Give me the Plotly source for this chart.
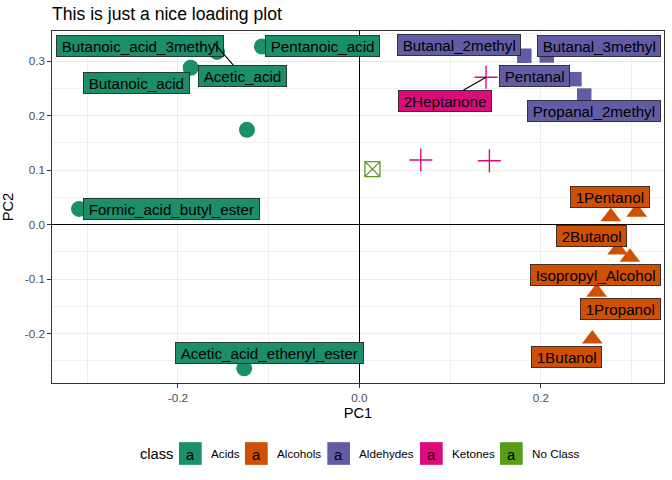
import plotly.graph_objects as go

# ---------------- data ----------------
classes = ["Acids", "Alcohols", "Aldehydes", "Ketones", "No Class"]
class_colors = ["#1B8E6A", "#CF5005", "#625CA5", "#DD0A7C", "#589C1A"]

acids_label = ["Butanoic_acid_3methyl", "Acetic_acid", "Pentanoic_acid", "Butanoic_acid",
               "Formic_acid_butyl_ester", "Acetic_acid_ethenyl_ester", ""]
acids_pc1 = [-0.157, -0.160, -0.1075, -0.186, -0.309, -0.127, -0.124]
acids_pc2 = [0.317, 0.333, 0.327, 0.288, 0.029, -0.2635, 0.174]

alcohols_label = ["1Pentanol", "", "2Butanol", "Isopropyl_Alcohol", "1Propanol", "1Butanol"]
alcohols_pc1 = [0.277, 0.3055, 0.2845, 0.298, 0.2614, 0.2566]
alcohols_pc2 = [0.0147, 0.023, -0.0464, -0.0599, -0.124, -0.2097]

aldehydes_label = ["Butanal_2methyl", "Butanal_3methyl", "Pentanal", "Propanal_2methyl"]
aldehydes_pc1 = [0.1817, 0.2064, 0.2369, 0.2477]
aldehydes_pc2 = [0.310, 0.3105, 0.267, 0.2369]

ketones_label = ["2Heptanone", "", ""]
ketones_pc1 = [0.1395, 0.0676, 0.1432]
ketones_pc2 = [0.2705, 0.1187, 0.1174]

noclass_label = [""]
noclass_pc1 = [0.0143]
noclass_pc2 = [0.102]

x_tickvals = [-0.2, 0.0, 0.2]
x_ticktext = ["-0.2", "0.0", "0.2"]
y_tickvals = [-0.2, -0.1, 0.0, 0.1, 0.2, 0.3]
y_ticktext = ["-0.2", "-0.1", "0.0", "0.1", "0.2", "0.3"]

# ---------------- styles / layout ----------------
W, H = 672, 480
ML, MR, MT, MB = 52, 8, 31, 97
PW, PH = W - ML - MR, H - MT - MB
FONT = "Liberation Sans, Arial, sans-serif"
PAD = "\u2009"

series = [
    (acids_label, acids_pc1, acids_pc2),
    (alcohols_label, alcohols_pc1, alcohols_pc2),
    (aldehydes_label, aldehydes_pc1, aldehydes_pc2),
    (ketones_label, ketones_pc1, ketones_pc2),
    (noclass_label, noclass_pc1, noclass_pc2),
]
marker_styles = [
    dict(symbol="circle", size=16),
    dict(symbol="triangle-up", size=18),
    dict(symbol="square", size=14.5),
    dict(symbol="cross-thin-open", size=16.5, lw=1.4),
    dict(symbol="square-x-open", size=15, lw=1.3),
]

# label offsets from point in pixels (dx right, dy down)
label_offsets = {
    "Butanoic_acid_3methyl": (-77.2, -6),
    "Acetic_acid": (28.2, 32.5),
    "Pentanoic_acid": (60.8, -0.2),
    "Butanoic_acid": (-54.2, 15.5),
    "Formic_acid_butyl_ester": (92.7, 0),
    "Acetic_acid_ethenyl_ester": (25.7, -15),
    "Butanal_2methyl": (-65.6, -10.3),
    "Butanal_3methyl": (52, -9.8),
    "Pentanal": (-39.5, -3.6),
    "Propanal_2methyl": (9.6, 15.4),
    "2Heptanone": (-41.5, 23.5),
    "1Pentanol": (-0.5, -19.4),
    "2Butanol": (-25.7, -14.3),
    "Isopropyl_Alcohol": (-34.7, 17.7),
    "1Propanol": (23.6, 16.7),
    "1Butanol": (-26, 17.7),
}
with_segment = {"Acetic_acid", "2Heptanone"}

fig = go.Figure()
annotations = []
for (labels, xs, ys), col, ms in zip(series, class_colors, marker_styles):
    mk = dict(symbol=ms["symbol"], size=ms["size"], color=col)
    if "lw" in ms:
        mk["line"] = dict(width=ms["lw"], color=col)
    else:
        mk["line"] = dict(width=0)
    fig.add_trace(go.Scatter(x=xs, y=ys, mode="markers", marker=mk,
                             showlegend=False, hoverinfo="skip"))
    for lab, x, y in zip(labels, xs, ys):
        if not lab:
            continue
        dx, dy = label_offsets[lab]
        a = dict(x=x, y=y, xref="x", yref="y", text=PAD + lab + PAD,
                 font=dict(family=FONT, size=15.2, color="black"),
                 bgcolor=col, bordercolor="#1a1a1a", borderwidth=0.8, borderpad=1.8)
        if lab in with_segment:
            a.update(showarrow=True, ax=dx, ay=dy, arrowhead=0, arrowwidth=1.1,
                     arrowcolor="black", standoff=0)
        else:
            a.update(showarrow=False, xshift=dx, yshift=-dy)
        annotations.append(a)

# ----- custom legend (ggplot style) -----
def xp(px):
    return (px - ML) / PW

def yp(py):
    return (H - MB - py) / PH

legend_key_px = [179, 245, 327.3, 420, 500]
KEY = 22.7
LEG_Y = 453.5
shapes = []
annotations.append(dict(x=xp(138), y=yp(LEG_Y), xref="paper", yref="paper", text="class",
                        showarrow=False, xanchor="left", yanchor="middle",
                        font=dict(family=FONT, size=14.7, color="black")))
for name, col, kx in zip(classes, class_colors, legend_key_px):
    shapes.append(dict(type="rect", xref="paper", yref="paper",
                       x0=xp(kx), x1=xp(kx + KEY), y0=yp(LEG_Y + KEY / 2), y1=yp(LEG_Y - KEY / 2),
                       fillcolor=col, line=dict(width=0)))
    annotations.append(dict(x=xp(kx + KEY / 2), y=yp(LEG_Y + 1), xref="paper", yref="paper",
                            text="a", showarrow=False, xanchor="center", yanchor="middle",
                            font=dict(family=FONT, size=14.7, color="black")))
    annotations.append(dict(x=xp(kx + 29.5), y=yp(LEG_Y), xref="paper", yref="paper",
                            text=name, showarrow=False, xanchor="left", yanchor="middle",
                            font=dict(family=FONT, size=11.7, color="black")))

axis_common = dict(
    showgrid=True, gridcolor="#EBEBEB", gridwidth=1,
    zeroline=True, zerolinecolor="black", zerolinewidth=1.1,
    showline=True, linecolor="#333333", linewidth=1, mirror=True,
    ticks="outside", ticklen=3.7, tickwidth=1, tickcolor="#333333",
    tickfont=dict(family=FONT, size=11.7, color="#4D4D4D"),
    tickmode="array",
)

fig.update_layout(
    width=W, height=H,
    margin=dict(l=ML, r=MR, t=MT, b=MB, autoexpand=False),
    paper_bgcolor="white", plot_bgcolor="white",
    title=dict(text="This is just a nice loading plot", x=ML / W, xanchor="left", xref="container",
               y=1 - 14 / H, yanchor="middle", yref="container",
               font=dict(family=FONT, size=17.6, color="black")),
    xaxis=dict(axis_common, range=[-0.3388, 0.3356], tickvals=x_tickvals, ticktext=x_ticktext,
               minor=dict(tickvals=[-0.3, -0.1, 0.1, 0.3], showgrid=True, gridcolor="#F0F0F0",
                          gridwidth=0.6, ticks=""),
               title=dict(text="PC1", standoff=4, font=dict(family=FONT, size=14.7, color="black"))),
    yaxis=dict(axis_common, range=[-0.2905, 0.3554], tickvals=y_tickvals, ticktext=y_ticktext,
               minor=dict(tickvals=[-0.25, -0.15, -0.05, 0.05, 0.15, 0.25, 0.35], showgrid=True,
                          gridcolor="#F0F0F0", gridwidth=0.6, ticks=""),
               title=dict(text="PC2", standoff=8, font=dict(family=FONT, size=14.7, color="black"))),
    annotations=annotations,
    shapes=shapes,
    hovermode=False,
)

fig.write_html("out.html")
